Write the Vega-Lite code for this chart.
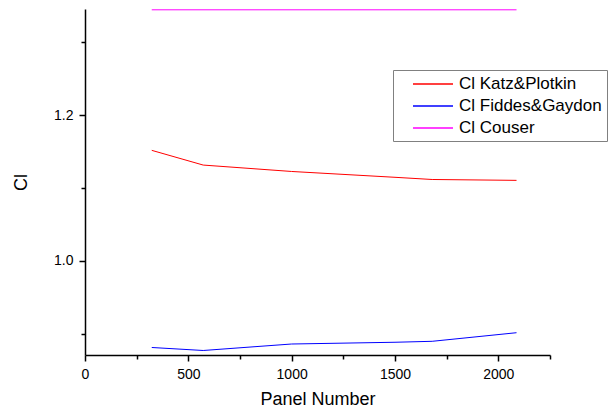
{
  "$schema": "https://vega.github.io/schema/vega-lite/v6.json",
  "width": 465,
  "height": 346,
  "autosize": "none",
  "padding": {"left": 85, "top": 9, "right": 58, "bottom": 60},
  "background": "white",
  "config": {
    "view": {"stroke": null},
    "font": "Liberation Sans"
  },
  "data": {
    "values": [
      {"panel": 323, "ci": 1.1515, "series": "Cl Katz&Plotkin"},
      {"panel": 572, "ci": 1.1313, "series": "Cl Katz&Plotkin"},
      {"panel": 1000, "ci": 1.1225, "series": "Cl Katz&Plotkin"},
      {"panel": 1500, "ci": 1.1145, "series": "Cl Katz&Plotkin"},
      {"panel": 1680, "ci": 1.1115, "series": "Cl Katz&Plotkin"},
      {"panel": 2088, "ci": 1.1103, "series": "Cl Katz&Plotkin"},
      {"panel": 323, "ci": 0.8808, "series": "Cl Fiddes&Gaydon"},
      {"panel": 572, "ci": 0.8767, "series": "Cl Fiddes&Gaydon"},
      {"panel": 1000, "ci": 0.8856, "series": "Cl Fiddes&Gaydon"},
      {"panel": 1500, "ci": 0.8880, "series": "Cl Fiddes&Gaydon"},
      {"panel": 1680, "ci": 0.8893, "series": "Cl Fiddes&Gaydon"},
      {"panel": 2088, "ci": 0.9011, "series": "Cl Fiddes&Gaydon"},
      {"panel": 323, "ci": 1.3445, "series": "Cl Couser"},
      {"panel": 2088, "ci": 1.3445, "series": "Cl Couser"}
    ]
  },
  "mark": {"type": "line", "strokeWidth": 1, "clip": false},
  "encoding": {
    "x": {
      "field": "panel",
      "type": "quantitative",
      "scale": {"domain": [0, 2250], "nice": false, "zero": false},
      "axis": {
        "title": "Panel Number",
        "values": [0, 250, 500, 750, 1000, 1250, 1500, 1750, 2000, 2250],
        "labelExpr": "datum.value % 500 === 0 ? datum.label : ''",
        "format": "d",
        "grid": false,
        "domainColor": "black",
        "domainWidth": 1.5,
        "tickColor": "black",
        "tickWidth": 1.5,
        "tickSize": {"condition": {"test": "datum.value % 500 === 0", "value": 6}, "value": 4},
        "labelPadding": 6,
        "labelFontSize": 14,
        "labelColor": "black",
        "labelFlush": false,
        "labelOverlap": false,
        "titleFontSize": 18,
        "titleFontWeight": "normal",
        "titleColor": "black",
        "titlePadding": 9
      }
    },
    "y": {
      "field": "ci",
      "type": "quantitative",
      "scale": {"domain": [0.8705, 1.3456], "nice": false, "zero": false},
      "axis": {
        "title": "Cl",
        "values": [0.9, 1.0, 1.1, 1.2, 1.3],
        "labelExpr": "round(datum.value * 10) % 2 === 0 ? format(datum.value, '.1f') : ''",
        "grid": false,
        "domainColor": "black",
        "domainWidth": 1.5,
        "tickColor": "black",
        "tickWidth": 1.5,
        "tickSize": {"condition": {"test": "round(datum.value * 10) % 2 === 0", "value": 6}, "value": 4},
        "labelPadding": 6,
        "labelFontSize": 14,
        "labelColor": "black",
        "labelFlush": false,
        "labelOverlap": false,
        "titleFontSize": 18,
        "titleFontWeight": "normal",
        "titleColor": "black",
        "titlePadding": 23
      }
    },
    "color": {
      "field": "series",
      "type": "nominal",
      "scale": {
        "domain": ["Cl Katz&Plotkin", "Cl Fiddes&Gaydon", "Cl Couser"],
        "range": ["#ff0000", "#0000ff", "#ff00ff"]
      },
      "legend": {
        "title": null,
        "orient": "none",
        "legendX": 308,
        "legendY": 61,
        "symbolType": "M-2.5,0H2.5",
        "symbolSize": 256,
        "symbolStrokeWidth": 1.3,
        "symbolOffset": 26,
        "labelOffset": 17,
        "labelFontSize": 17,
        "labelColor": "black",
        "labelLimit": 300,
        "padding": 5,
        "rowPadding": 5,
        "strokeColor": "#808080",
        "fillColor": "white",
        "encode": {
          "symbols": {
            "update": {
              "stroke": {"scale": "color", "field": "value"},
              "fill": {"value": "transparent"},
              "strokeOpacity": {"value": 1},
              "opacity": {"value": 1}
            }
          }
        }
      }
    }
  }
}
